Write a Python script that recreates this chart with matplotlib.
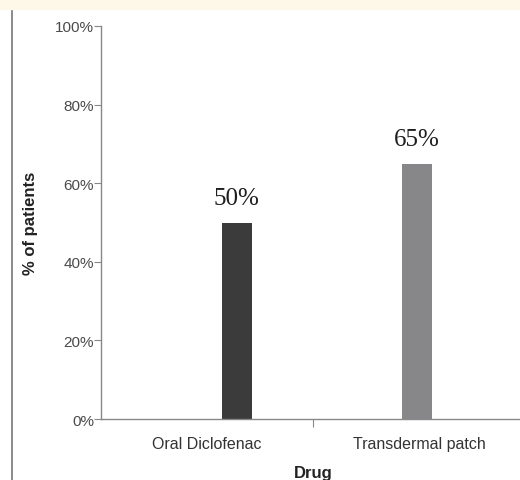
import matplotlib
matplotlib.use('Agg')
import matplotlib.pyplot as plt
from matplotlib.patches import Rectangle
from matplotlib.lines import Line2D
from matplotlib.ticker import FixedLocator, FuncFormatter

# Share of patients per drug
drugs = ['Oral Diclofenac', 'Transdermal patch']
patients_pct = [50, 65]
bar_labels = ['50%', '65%']
bar_colors = ['#3b3b3b', '#87878a']
yticks = [0, 20, 40, 60, 80, 100]

# bars sit a little off the category centres
bar_pos = [0.64, 1.49]
cat_pos = [0.5, 1.5]

fig = plt.figure(figsize=(5.2, 4.81), dpi=100)
fig.patch.set_facecolor('white')

# pale header strip and page border line
fig.patches.append(Rectangle((0, 1 - 11 / 481), 1, 11 / 481, transform=fig.transFigure,
                             facecolor='#fdf8e7', edgecolor='none', zorder=0))
fig.lines.append(Line2D([12 / 520, 12 / 520], [0, 1 - 12 / 481], transform=fig.transFigure,
                        color='#777777', linewidth=1.2))

ax = fig.add_axes([101 / 520, 1 - 420 / 481, 424 / 520, 393 / 481])
ax.bar(bar_pos, patients_pct, width=0.14, color=bar_colors, zorder=2)

for x, v, lab in zip(bar_pos, patients_pct, bar_labels):
    ax.annotate(lab, (x, v), xytext=(0, 10), textcoords='offset points',
                ha='center', va='bottom', fontsize=18, family='Liberation Serif',
                color='#1e1e1e')

ax.set_xlim(0, 2)
ax.set_ylim(0, 100)

ax.set_yticks(yticks)
ax.yaxis.set_major_formatter(FuncFormatter(lambda v, p: f'{v:.0f}%'))
ax.tick_params(axis='y', length=5, width=0.8, color='#888888', labelsize=11,
               labelcolor='#4a4a4a', pad=0)

# category names centred in each slot, tick only at the boundary
ax.xaxis.set_major_locator(FixedLocator([1]))
ax.xaxis.set_major_formatter(FuncFormatter(lambda v, p: ''))
ax.xaxis.set_minor_locator(FixedLocator(cat_pos))
ax.set_xticklabels(drugs, minor=True)
ax.tick_params(axis='x', which='major', length=6, width=0.8, color='#888888')
ax.tick_params(axis='x', which='minor', length=0, labelsize=11.5,
               labelcolor='#333333', pad=12)

for lab in ax.get_yticklabels() + ax.get_xticklabels(minor=True):
    lab.set_family('Liberation Sans')

ax.set_xlabel('Drug', fontsize=12, fontweight='bold', family='Liberation Sans',
              color='#222222', labelpad=10)
ax.set_ylabel('% of patients', fontsize=12, fontweight='bold', family='Liberation Sans',
              color='#222222', labelpad=12)

for side in ['top', 'right']:
    ax.spines[side].set_visible(False)
for side in ['left', 'bottom']:
    ax.spines[side].set_color('#888888')
    ax.spines[side].set_linewidth(1.0)

fig.savefig('out.png', dpi=100)
